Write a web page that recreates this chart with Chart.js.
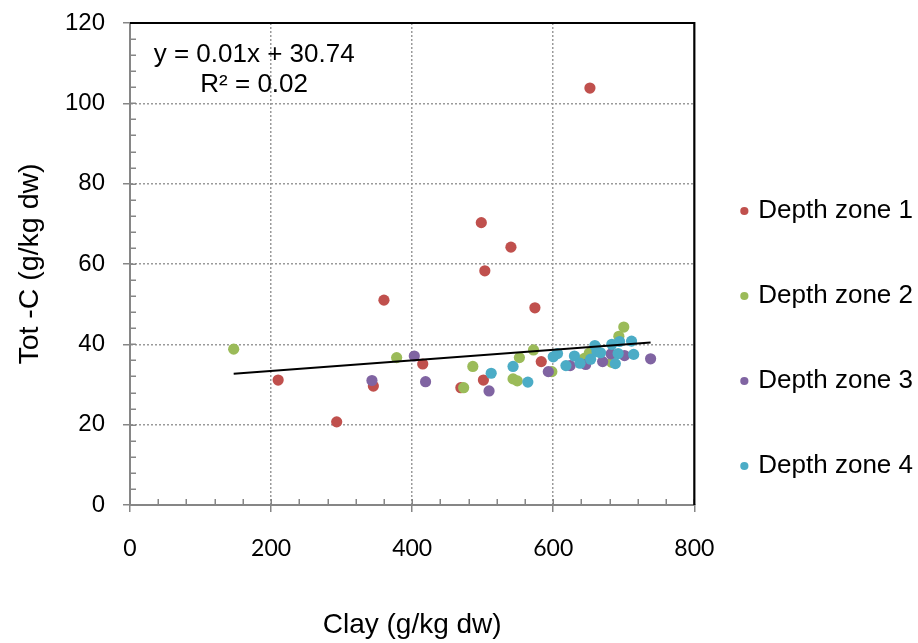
<!DOCTYPE html>
<html><head><meta charset="utf-8">
<script src="https://cdn.jsdelivr.net/npm/chart.js@4.4.1/dist/chart.umd.min.js"></script>
<style>html,body{margin:0;padding:0;background:#fff}#wrap{width:918px;height:643px;position:relative}</style>
</head><body><div id="wrap"><canvas id="c" width="918" height="643"></canvas></div>
<script>
// ---- data ----
const seriesNames = ['Depth zone 1', 'Depth zone 2', 'Depth zone 3', 'Depth zone 4'];
const seriesColors = ['#C0504D', '#9BBB59', '#8064A2', '#4BACC6'];

const zone1Clay = [210, 293, 345, 360, 415, 469, 498, 501, 503, 540, 574, 583, 652];
const zone1TotC = [31.1, 20.7, 29.6, 51.0, 35.1, 29.2, 70.3, 31.1, 58.3, 64.2, 49.1, 35.7, 103.8];

const zone2Clay = [147, 378, 473, 486, 543, 549, 552, 572, 598, 644, 651, 683, 693, 700];
const zone2TotC = [38.8, 36.7, 29.2, 34.5, 31.4, 30.9, 36.7, 38.6, 33.2, 36.5, 37.8, 35.5, 42.0, 44.3];

const zone3Clay = [343, 403, 419, 509, 593, 624, 646, 670, 682, 701, 738];
const zone3TotC = [31.0, 37.1, 30.7, 28.4, 33.2, 34.7, 35.0, 35.7, 37.6, 37.2, 36.4];

const zone4Clay = [512, 543, 564, 600, 606, 618, 630, 638, 653, 659, 662, 667, 683, 688, 692, 694, 711, 714];
const zone4TotC = [32.8, 34.5, 30.6, 36.9, 37.7, 34.7, 37.1, 35.3, 36.3, 39.7, 38.2, 37.9, 40.0, 35.2, 37.7, 40.7, 40.8, 37.5];

const xTickValues = [0, 200, 400, 600, 800];
const yTickValues = [0, 20, 40, 60, 80, 100, 120];

const trendSlope = 0.0132;
const trendIntercept = 30.74;
const equationLines = ['y = 0.01x + 30.74', 'R\u00B2 = 0.02'];

const xTitle = 'Clay (g/kg dw)';
const yTitle = 'Tot -C (g/kg dw)';

// ---- build ----
const clayLists = [zone1Clay, zone2Clay, zone3Clay, zone4Clay];
const totcLists = [zone1TotC, zone2TotC, zone3TotC, zone4TotC];
const allClay = [].concat(...clayLists);
const trendX = [Math.min(...allClay), Math.max(...allClay)];

const datasets = seriesNames.map((name, i) => ({
  type: 'scatter',
  label: name,
  data: clayLists[i].map((x, j) => ({x: x, y: totcLists[i][j]})),
  backgroundColor: seriesColors[i],
  borderColor: seriesColors[i],
  borderWidth: 0,
  pointRadius: 5.6,
  pointHoverRadius: 5.6,
  pointStyle: 'circle',
  order: 5 - i
}));
datasets.push({
  type: 'line',
  label: 'trend',
  data: trendX.map(x => ({x: x, y: trendIntercept + trendSlope * x})),
  borderColor: '#000',
  borderWidth: 2,
  pointRadius: 0,
  fill: false,
  order: 0
});

const AX = '#868686';
const GRID = '#9a9a9a';

const framePlugin = {
  id: 'frame',
  beforeDatasetsDraw(chart) {
    const {ctx, chartArea: a, scales: {x, y}} = chart;
    ctx.save();
    ctx.strokeStyle = AX;
    ctx.lineWidth = 1.5;
    ctx.beginPath();
    for (let v = yTickValues[0]; v <= yTickValues[yTickValues.length - 1]; v += 4) {
      const py = Math.round(y.getPixelForValue(v)) + 0.25;
      ctx.moveTo(a.left, py); ctx.lineTo(a.left + 6, py);
    }
    for (let v = xTickValues[0]; v <= xTickValues[xTickValues.length - 1]; v += 40) {
      const px = Math.round(x.getPixelForValue(v)) + 0.25;
      ctx.moveTo(px, a.bottom); ctx.lineTo(px, a.bottom - 6);
    }
    ctx.stroke();
    ctx.strokeStyle = '#000';
    ctx.lineWidth = 2.2;
    ctx.beginPath();
    ctx.moveTo(a.left, a.top); ctx.lineTo(a.right, a.top); ctx.lineTo(a.right, a.bottom);
    ctx.stroke();
    ctx.restore();
  },
  afterDatasetsDraw(chart) {
    const {ctx, scales: {x, y}} = chart;
    ctx.save();
    ctx.fillStyle = '#000';
    ctx.font = '26px "Liberation Sans", Arial, sans-serif';
    ctx.textAlign = 'center';
    ctx.textBaseline = 'middle';
    const cx = x.getPixelForValue(176);
    ctx.fillText(equationLines[0], cx, y.getPixelForValue(112));
    ctx.fillText(equationLines[1], cx, y.getPixelForValue(104.6));
    ctx.restore();
  }
};

new Chart(document.getElementById('c'), {
  data: {datasets: datasets},
  options: {
    responsive: false,
    animation: false,
    events: [],
    layout: {padding: {top: 23, right: -5, bottom: 0, left: 0}},
    plugins: {
      tooltip: {enabled: false},
      legend: {
        position: 'right',
        align: 'center',
        title: {display: true, text: ' ', font: {size: 10}, padding: {top: 4.5, bottom: 4.5}},
        labels: {
          usePointStyle: true,
          boxWidth: 2,
          boxHeight: 5.8,
          padding: 49,
          color: '#000',
          font: {family: '"Liberation Sans", Arial, sans-serif', size: 26, lineHeight: '36px'},
          generateLabels: (chart) => Chart.defaults.plugins.legend.labels.generateLabels(chart)
            .filter(l => l.datasetIndex < seriesNames.length)
            .sort((a, b) => a.datasetIndex - b.datasetIndex)
            .map(l => Object.assign({}, l, {text: [l.text]}))
        }
      }
    },
    scales: {
      x: {
        type: 'linear',
        position: 'bottom',
        min: xTickValues[0],
        max: xTickValues[xTickValues.length - 1],
        afterBuildTicks: (s) => { s.ticks = xTickValues.map(v => ({value: v})); },
        afterFit: (s) => { s.height = 138; },
        ticks: {color: '#000', padding: 23, font: {family: 'Lato, "Liberation Sans", sans-serif', size: 23}},
        grid: {
          color: (c) => (c.tick && (c.tick.value === xTickValues[0] || c.tick.value === xTickValues[xTickValues.length - 1])) ? 'rgba(0,0,0,0)' : GRID,
          lineWidth: 1.5,
          tickColor: AX, tickWidth: 1.5, tickLength: 7
        },
        border: {color: AX, width: 2, dash: [2, 2]},
        title: {display: true, text: xTitle, color: '#000', padding: {top: 0, bottom: 1},
                font: {family: '"Liberation Sans", Arial, sans-serif', size: 28}}
      },
      y: {
        type: 'linear',
        position: 'left',
        min: yTickValues[0],
        max: yTickValues[yTickValues.length - 1],
        afterBuildTicks: (s) => { s.ticks = yTickValues.map(v => ({value: v})); },
        afterFit: (s) => { s.width = 130; },
        ticks: {color: '#000', padding: 18, font: {family: '"Liberation Sans", Arial, sans-serif', size: 24, lineHeight: '8px'}},
        grid: {
          color: (c) => (c.tick && (c.tick.value === yTickValues[0] || c.tick.value === yTickValues[yTickValues.length - 1])) ? 'rgba(0,0,0,0)' : GRID,
          lineWidth: 1.5,
          tickColor: AX, tickWidth: 1.5, tickLength: 7
        },
        border: {color: AX, width: 2, dash: [2, 2]},
        title: {display: true, text: yTitle, color: '#000', padding: {top: 13, bottom: 0},
                font: {family: '"Liberation Sans", Arial, sans-serif', size: 28.5}}
      }
    }
  },
  plugins: [framePlugin]
});
</script>
</body></html>
